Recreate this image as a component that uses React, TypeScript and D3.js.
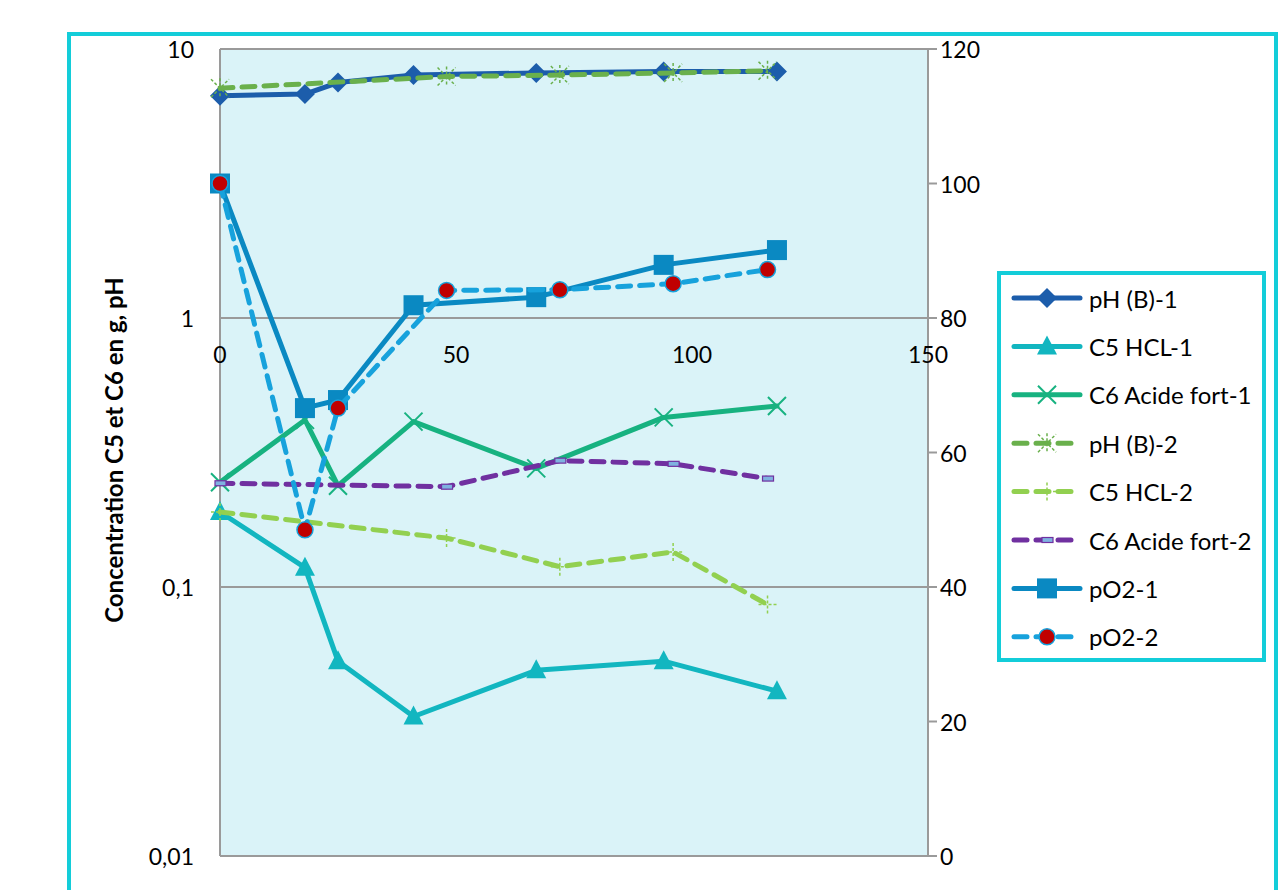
import React from "react";
import * as d3 from "d3";

const timeRun1 = [0, 18, 25, 41, 67, 94, 118];
const timeRun2 = [0, 18, 25, 48, 72, 96, 116];
const timeRun2Sparse = [0, 48, 72, 96, 116];

const phB1 = [6.7, 6.8, 7.5, 8.0, 8.15, 8.25, 8.25];
const c5Hcl1 = [0.19, 0.118, 0.053, 0.033, 0.049, 0.053, 0.041];
const c6Acide1 = [0.245, 0.418, 0.238, 0.412, 0.276, 0.427, 0.471];
const phB2 = [7.15, 7.9, 8.0, 8.15, 8.3];
const c5Hcl2 = [0.19, 0.152, 0.119, 0.135, 0.086];
const c6Acide2 = [0.243, 0.236, 0.295, 0.287, 0.253];
const pO2Run1 = [100, 66.6, 67.8, 81.9, 83.1, 87.9, 90.1];
const pO2Run2 = [100, 48.5, 66.6, 84.1, 84.2, 85.1, 87.2];

const xTicks = [0, 50, 100, 150];
const leftTicks = [10, 1, 0.1, 0.01];
const leftTickLabels = ["10", "1", "0,1", "0,01"];
const rightTicks = [0, 20, 40, 60, 80, 100, 120];

const FONT = "Lato, 'Open Sans', sans-serif";

type Marker = "diamond" | "triangle" | "x" | "star" | "plus" | "dash" | "square" | "circle";

interface Series {
  name: string;
  t: number[];
  v: number[];
  axis: "L" | "R";
  color: string;
  dashed: boolean;
  marker: Marker;
}

const series: Series[] = [
  { name: "pH (B)-1", t: timeRun1, v: phB1, axis: "L", color: "#1C5DAB", dashed: false, marker: "diamond" },
  { name: "C5 HCL-1", t: timeRun1, v: c5Hcl1, axis: "L", color: "#12B6C0", dashed: false, marker: "triangle" },
  { name: "C6 Acide fort-1", t: timeRun1, v: c6Acide1, axis: "L", color: "#17B280", dashed: false, marker: "x" },
  { name: "pH (B)-2", t: timeRun2Sparse, v: phB2, axis: "L", color: "#6AB04C", dashed: true, marker: "star" },
  { name: "C5 HCL-2", t: timeRun2Sparse, v: c5Hcl2, axis: "L", color: "#92D050", dashed: true, marker: "plus" },
  { name: "C6 Acide fort-2", t: timeRun2Sparse, v: c6Acide2, axis: "L", color: "#7030A0", dashed: true, marker: "dash" },
  { name: "pO2-1", t: timeRun1, v: pO2Run1, axis: "R", color: "#0A89C2", dashed: false, marker: "square" },
  { name: "pO2-2", t: timeRun2, v: pO2Run2, axis: "R", color: "#17A2DC", dashed: true, marker: "circle" },
];

function MarkerShape({ m, x, y, color }: { m: Marker; x: number; y: number; color: string }) {
  switch (m) {
    case "diamond":
      return <path d={`M${x},${y - 10}L${x + 10},${y}L${x},${y + 10}L${x - 10},${y}Z`} fill={color} />;
    case "triangle":
      return <path d={`M${x},${y - 11}L${x + 10},${y + 8}L${x - 10},${y + 8}Z`} fill={color} />;
    case "square":
      return <rect x={x - 10} y={y - 10} width={20} height={20} fill={color} />;
    case "circle":
      return <circle cx={x} cy={y} r={8} fill="#C00000" stroke={color} strokeWidth={1.5} />;
    case "x":
      return (
        <path
          d={`M${x - 9},${y - 9}L${x + 9},${y + 9}M${x - 9},${y + 9}L${x + 9},${y - 9}`}
          stroke={color}
          strokeWidth={2}
        />
      );
    case "star":
      return (
        <path
          d={`M${x - 9},${y - 9}L${x + 9},${y + 9}M${x - 9},${y + 9}L${x + 9},${y - 9}M${x},${y - 10}L${x},${y + 10}`}
          stroke={color}
          strokeWidth={1.5}
          strokeDasharray="3,2"
        />
      );
    case "plus":
      return (
        <path
          d={`M${x - 9},${y}L${x + 9},${y}M${x},${y - 9}L${x},${y + 9}`}
          stroke={color}
          strokeWidth={1.5}
          strokeDasharray="3,2"
        />
      );
    case "dash":
      return <rect x={x - 5} y={y - 2.5} width={11} height={5} fill="#7FB2E0" stroke={color} strokeWidth={1.2} />;
  }
  return null;
}

export default function App() {
  const W = 1285;
  const H = 890;
  const left = 220;
  const right = 928;
  const top = 49;
  const bottom = 856;

  const x = d3.scaleLinear().domain([0, 150]).range([left, right]);
  const yL = d3.scaleLog().domain([0.01, 10]).range([bottom, top]);
  const yR = d3.scaleLinear().domain([0, 120]).range([bottom, top]);

  const lineGen = (s: Series) => {
    const ys = s.axis === "L" ? yL : yR;
    return d3
      .line<number>()
      .x((_, i) => x(s.t[i]))
      .y((d) => ys(d))(s.v) as string;
  };

  const legendX = 999;
  const legendY = 273;
  const legendW = 265;
  const legendH = 387;
  const legendRow0 = 298;
  const legendStep = 48.4;

  return (
    <svg
      width={W}
      height={H}
      style={{ position: "absolute", left: 0, top: 0, background: "#fff" }}
      fontFamily={FONT}
    >
      <rect x={0} y={0} width={W} height={H} fill="#fff" />
      {/* outer frame */}
      <rect x={69} y={34} width={1207} height={900} fill="none" stroke="#13CDD9" strokeWidth={4} />

      {/* plot area */}
      <rect x={left} y={top} width={right - left} height={bottom - top} fill="#DAF3F8" />
      {/* gridlines */}
      {leftTicks.map((t) => (
        <line key={"g" + t} x1={left} x2={right} y1={yL(t)} y2={yL(t)} stroke="#9A9A9A" strokeWidth={2} />
      ))}
      {/* axes */}
      <line x1={left} x2={left} y1={top} y2={bottom} stroke="#9A9A9A" strokeWidth={2} />
      <line x1={right} x2={right} y1={top} y2={bottom} stroke="#9A9A9A" strokeWidth={2} />
      {rightTicks.map((t) => (
        <line key={"rt" + t} x1={right} x2={right + 9} y1={yR(t)} y2={yR(t)} stroke="#9A9A9A" strokeWidth={2} />
      ))}

      {/* left tick labels */}
      {leftTicks.map((t, i) => (
        <text key={"lt" + t} x={194} y={yL(t)} textAnchor="end" dominantBaseline="central" fontSize={23} fill="#000">
          {leftTickLabels[i]}
        </text>
      ))}
      {/* right tick labels */}
      {rightTicks.map((t) => (
        <text key={"rl" + t} x={940} y={yR(t)} textAnchor="start" dominantBaseline="central" fontSize={23} fill="#000">
          {t}
        </text>
      ))}
      {/* x tick labels (on the axis crossing at 1) */}
      {xTicks.map((t) => (
        <text key={"xt" + t} x={x(t)} y={yL(1) + 36} textAnchor="middle" dominantBaseline="central" fontSize={23} fill="#000">
          {t}
        </text>
      ))}

      {/* y title */}
      <text
        transform={`translate(113,450) rotate(-90)`}
        textAnchor="middle"
        dominantBaseline="central"
        fontSize={24}
        fontWeight="bold"
        fill="#000"
      >
        Concentration C5 et C6 en g, pH
      </text>

      {/* series */}
      {series.map((s) => {
        const ys = s.axis === "L" ? yL : yR;
        return (
          <g key={s.name}>
            <path
              d={lineGen(s)}
              fill="none"
              stroke={s.color}
              strokeWidth={5}
              strokeLinejoin="round"
              strokeLinecap="round"
              strokeDasharray={s.dashed ? "13,9" : undefined}
            />
            {s.v.map((v, i) => (
              <MarkerShape key={i} m={s.marker} x={x(s.t[i])} y={ys(v)} color={s.color} />
            ))}
          </g>
        );
      })}

      {/* legend */}
      <rect x={legendX} y={legendY} width={legendW} height={legendH} fill="#fff" stroke="#13CDD9" strokeWidth={4} />
      {series.map((s, i) => {
        const cy = legendRow0 + i * legendStep;
        return (
          <g key={"lg" + s.name}>
            <line
              x1={1014}
              x2={1080}
              y1={cy}
              y2={cy}
              stroke={s.color}
              strokeWidth={5}
              strokeLinecap="round"
              strokeDasharray={s.dashed ? "13,9" : undefined}
            />
            <MarkerShape m={s.marker} x={1047} y={cy} color={s.color} />
            <text x={1089} y={cy} dominantBaseline="central" fontSize={24} fill="#000">
              {s.name}
            </text>
          </g>
        );
      })}
    </svg>
  );
}
